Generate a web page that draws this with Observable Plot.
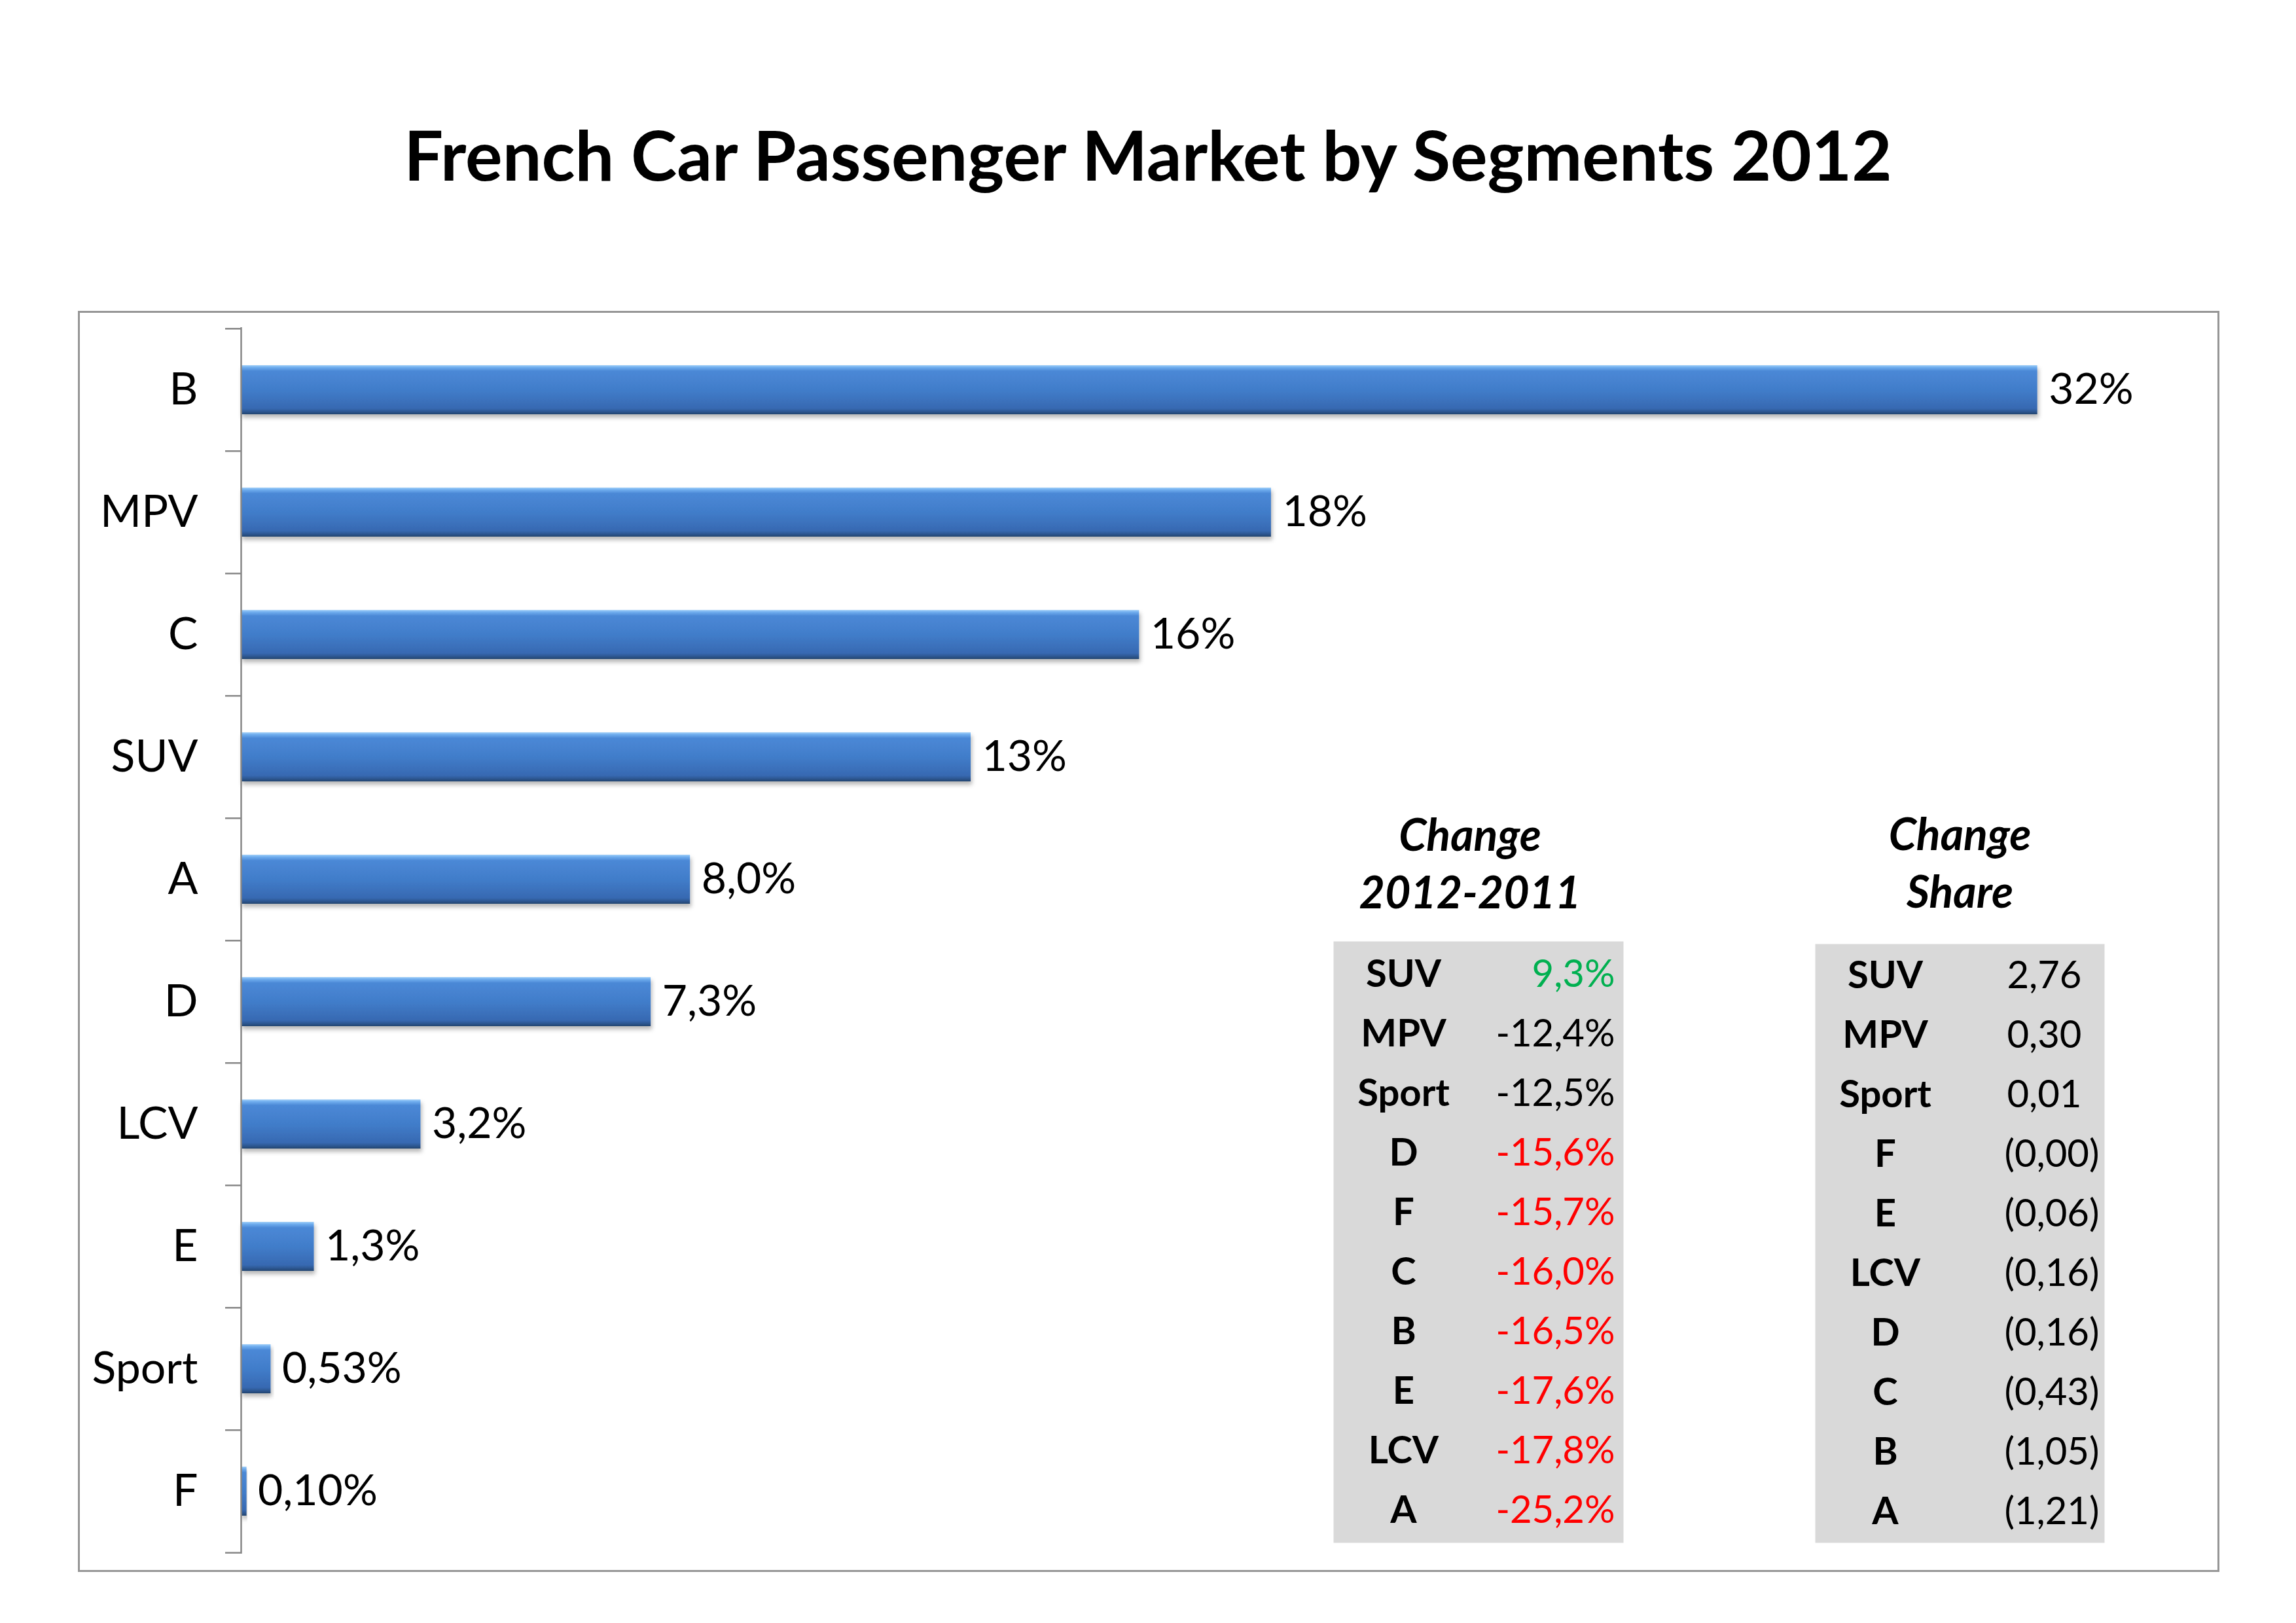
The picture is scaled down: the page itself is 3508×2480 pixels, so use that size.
<!DOCTYPE html>
<html>
<head>
<meta charset="utf-8">
<script src="https://cdn.jsdelivr.net/npm/d3@7"></script>
<script src="https://cdn.jsdelivr.net/npm/@observablehq/plot@0.6"></script>
<style>
  html, body { margin: 0; padding: 0; background: #fff; }
  #page { position: relative; width: 3508px; height: 2480px; background: #fff; overflow: hidden; font-family: Lato, "Open Sans", sans-serif; }
  #title { position: absolute; left: 0; top: 172px; width: 3508px; text-align: center; font-weight: 700; font-size: 106px; line-height: 1.2; color: #000; }
  #box { position: absolute; left: 119px; top: 475px; width: 3272px; height: 1927px; border: 3px solid #969696; box-sizing: border-box; }
  #chart { position: absolute; left: 120px; top: 476px; }
  #t1 { position: absolute; left: 2037px; top: 1200px; }
  #t2 { position: absolute; left: 2773px; top: 1204px; }
</style>
</head>
<body>
<div id="page">
  <div id="title">French Car Passenger Market by Segments 2012</div>
  <div id="box"></div>
  <div id="chart"></div>
  <div id="t1"></div>
  <div id="t2"></div>
</div>
<script>
// ---------- data ----------
const segments = ["B", "MPV", "C", "SUV", "A", "D", "LCV", "E", "Sport", "F"];
const shares = [32.0, 18.35, 16.0, 13.0, 8.0, 7.3, 3.2, 1.3, 0.53, 0.10]; // % of market 2012

const changeCats = ["SUV", "MPV", "Sport", "D", "F", "C", "B", "E", "LCV", "A"];
const changeValues = [9.3, -12.4, -12.5, -15.6, -15.7, -16.0, -16.5, -17.6, -17.8, -25.2]; // % 2012 vs 2011

const shareCats = ["SUV", "MPV", "Sport", "F", "E", "LCV", "D", "C", "B", "A"];
const shareChange = [2.76, 0.30, 0.01, -0.003, -0.06, -0.16, -0.16, -0.43, -1.05, -1.21]; // points of share

const changeTitle = "Change\n2012-2011";
const shareTitle = "Change\nShare";

// ---------- helpers ----------
const fr = d3.formatLocale({decimal: ",", thousands: " ", grouping: [3], currency: ["", " €"], minus: "-"});
const fmtShare = v => fr.format(".2r")(v) + "%";
const fmtChange = v => fr.format(".1f")(v) + "%";
const fmtPts = v => v < 0 ? "(" + fr.format(".2f")(Math.abs(v)) + ")" : fr.format(".2f")(v);

const font = "Lato, 'Open Sans', sans-serif";

const segRows = segments.map((cat, i) => ({cat, share: shares[i]}));
const changeRows = changeCats.map((cat, i) => ({cat, value: changeValues[i]}));
const shareRows = shareCats.map((cat, i) => ({cat, value: shareChange[i]}));

// ---------- bar chart ----------
const W = 3270, H = 1924, mT = 24, mB = 26, mL = 248, mR = 20;
const step = (H - mT - mB) / segments.length;
const axisColor = "#878787";

const chart = Plot.plot({
  width: W,
  height: H,
  marginTop: mT,
  marginBottom: mB,
  marginLeft: mL,
  marginRight: mR,
  style: {fontFamily: font, fontSize: "68px", color: "#000", background: "transparent", overflow: "visible"},
  x: {domain: [0, 35], axis: null},
  y: {type: "band", domain: segments, paddingInner: 0.6, paddingOuter: 0.3, tickSize: 0, tickPadding: 66, label: null},
  marks: [
    Plot.barX(segRows, {x: "share", y: "cat", fill: "url(#barGrad)"}),
    Plot.ruleX([0], {stroke: axisColor, strokeWidth: 2.5}),
    Plot.ruleY(segments, {y: d => d, x1: 0, x2: 0, insetLeft: -24, dy: -step / 2, stroke: axisColor, strokeWidth: 2.5}),
    Plot.ruleY([segments[segments.length - 1]], {y: d => d, x1: 0, x2: 0, insetLeft: -24, dy: step / 2, stroke: axisColor, strokeWidth: 2.5}),
    Plot.text(segRows, {x: "share", y: "cat", text: d => fmtShare(d.share), textAnchor: "start", dx: 17, fontSize: 66, fill: "#000"})
  ]
});

// gradient + shadow for the bars
const svg = d3.select(chart);
const defs = svg.insert("defs", ":first-child");
const grad = defs.append("linearGradient").attr("id", "barGrad").attr("x1", 0).attr("y1", 0).attr("x2", 0).attr("y2", 1);
[[0, "#a6d2f8"], [0.04, "#72b0f0"], [0.12, "#4b88d6"], [0.5, "#417dca"], [0.88, "#3769b2"], [0.95, "#2c568f"], [1, "#23456f"]]
  .forEach(([o, c]) => grad.append("stop").attr("offset", o).attr("stop-color", c));
const filt = defs.append("filter").attr("id", "barShadow").attr("x", "-5%").attr("y", "-20%").attr("width", "115%").attr("height", "160%");
filt.append("feDropShadow").attr("dx", 2).attr("dy", 5).attr("stdDeviation", 3).attr("flood-color", "#000").attr("flood-opacity", 0.28);
svg.selectAll("rect").filter(function () { return this.getAttribute("fill") === "url(#barGrad)" || (this.parentNode && this.parentNode.getAttribute("fill") === "url(#barGrad)"); })
  .attr("filter", "url(#barShadow)");
document.getElementById("chart").appendChild(chart);

// ---------- tables ----------
function table(rows, cats, title, opts) {
  return Plot.plot({
    width: opts.width,
    height: opts.top + opts.boxH,
    marginTop: opts.top,
    marginBottom: 0,
    marginLeft: 0,
    marginRight: 0,
    style: {fontFamily: font, fontSize: "58px", color: "#000", background: "transparent", overflow: "visible"},
    y: {type: "band", domain: cats, axis: null, padding: 0},
    marks: [
      Plot.frame({fill: "#d9d9d9", stroke: "none"}),
      Plot.text([title], {text: d => d, frameAnchor: "top", lineAnchor: "bottom", lineHeight: opts.lh, dy: opts.titleDy, dx: opts.titleDx, fontSize: 68, fontWeight: 700, fontStyle: "italic", fill: "#000"}),
      Plot.text(rows, {y: "cat", text: "cat", frameAnchor: "left", textAnchor: "middle", dx: 107, fontSize: 58, fontWeight: 700, fill: "#000"}),
      ...opts.valueMarks
    ]
  });
}

const t1 = table(changeRows, changeCats, changeTitle, {
  width: 443, top: 238, boxH: 919, lh: 1.28, titleDy: -51, titleDx: -13,
  valueMarks: [
    Plot.text(changeRows, {y: "cat", text: d => fmtChange(d.value), frameAnchor: "right", textAnchor: "end", dx: -13, fontSize: 58,
      fill: d => d.value > 0 ? "#00b050" : d.value <= -15 ? "#ff0000" : "#000"})
  ]
});
document.getElementById("t1").appendChild(t1);

const t2 = table(shareRows, shareCats, shareTitle, {
  width: 442, top: 238, boxH: 915, lh: 1.29, titleDy: -56, titleDx: 0,
  valueMarks: [
    Plot.text(shareRows.filter(d => d.value >= 0), {y: "cat", text: d => fmtPts(d.value), frameAnchor: "right", textAnchor: "end", dx: -35, fontSize: 58, fill: "#000"}),
    Plot.text(shareRows.filter(d => d.value < 0), {y: "cat", text: d => fmtPts(d.value), frameAnchor: "right", textAnchor: "end", dx: -8, fontSize: 58, fill: "#000"})
  ]
});
document.getElementById("t2").appendChild(t2);
</script>
</body>
</html>
